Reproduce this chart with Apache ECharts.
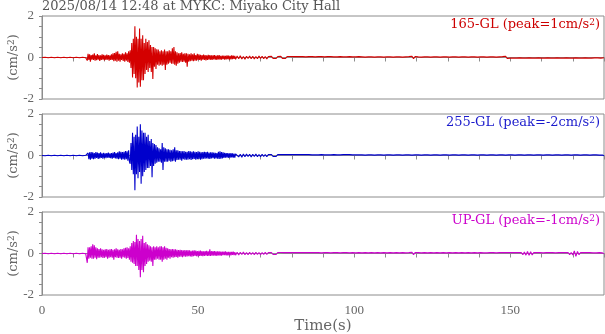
<!DOCTYPE html>
<html><head><meta charset="utf-8">
<script src="https://cdn.jsdelivr.net/npm/echarts@6/dist/echarts.min.js"></script>
<style>html,body{margin:0;padding:0;background:#fff}#c{width:605px;height:334px}</style>
</head><body><div id="c"></div><script>
// ---- data ----
const titleText = '2025/08/14 12:48 at MYKC: Miyako City Hall';
const channels = ['165-GL', '255-GL', 'UP-GL'];
const peaks = ['1', '-2', '-1'];
const xTickLabels = [0, 50, 100, 150];
const yTickLabels = [-2, 0, 2];
// sampling of the three segments (seconds)
const PRE_T0 = 0, PRE_DT = 1;
const MAIN_T0 = 14.25, MAIN_DT = 0.25;
const CODA_T0 = 62.5, CODA_DT = 0.5;

// 165-GL (cm/s^2)
const pre165 = [0,0.01,-0.01,0.01,-0.01,0.01,-0.01,0.01,-0.01,0.01,-0.01,0.01,-0.01,0.01,-0.01];
const main165 = [
0.02,-0.15,0.18,-0.12,0.15,-0.2,0.12,-0.1,
0.14,-0.12,0.2,-0.15,0.1,-0.13,0.16,-0.1,
0.12,-0.16,0.1,-0.12,0.15,-0.1,0.13,-0.14,
0.1,-0.12,0.14,-0.1,0.12,-0.15,0.1,-0.12,
0.15,-0.12,0.2,-0.18,0.22,-0.15,0.28,-0.2,
0.3,-0.15,0.18,-0.2,0.15,-0.12,0.2,-0.16,
0.18,-0.2,0.25,-0.15,0.2,-0.22,0.3,-0.25,
0.35,-0.5,0.7,-0.96,0.9,-0.8,1.5,-1.0,
1.0,-1.45,0.9,-1.2,1.4,-1.41,0.9,-1.1,
1.07,-1.1,0.7,-0.8,0.9,-0.6,0.75,-0.7,
0.83,-0.5,0.6,-0.7,0.5,-1.04,0.5,-0.45,
0.45,-0.55,0.4,-0.35,0.38,-0.4,0.3,-0.35,
0.35,-0.4,0.3,-0.35,0.38,-0.6,0.3,-0.35,
0.3,-0.3,0.35,-0.25,0.3,-0.3,0.45,-0.3,
0.5,-0.35,0.3,-0.4,0.25,-0.3,0.2,-0.25,
0.22,-0.2,0.25,-0.22,0.18,-0.2,0.2,-0.25,
0.2,-0.45,0.18,-0.2,0.15,-0.18,0.2,-0.15,
0.15,-0.18,0.2,-0.15,0.12,-0.15,0.18,-0.12,
0.15,-0.12,0.13,-0.15,0.12,-0.1,0.14,-0.12,
0.12,-0.14,0.1,-0.12,0.13,-0.1,0.12,-0.11,
0.1,-0.12,0.11,-0.09,0.12,-0.1,0.09,-0.11,
0.1,-0.09,0.11,-0.1,0.08,-0.1,0.09,-0.08,
0.09,-0.1,0.08,-0.09,0.1,-0.08,0.09,-0.1,
0.08,-0.09,0.1,-0.08,0.09,-0.07,0.08,-0.09];
const coda165 = [
0.07,-0.06,0.08,-0.07,0.05,-0.08,0.06,-0.05,0.07,-0.06,
0.06,-0.07,0.05,-0.06,0.07,-0.05,0.06,-0.06,0.05,-0.07,
0.05,-0.04,0.06,-0.05,0.04,-0.05,0.05,-0.04,0.06,-0.05,
0.04,-0.05,0.05,-0.04,0.05,-0.04,0.04,-0.05,0.04,-0.04,
0.04,-0.03,0.04,-0.04,0.03,-0.04,0.04,-0.03,0.04,-0.04,
0.03,-0.04,0.04,-0.03,0.04,-0.04,0.03,-0.04,0.04,-0.03,
0.04,-0.03,0.03,-0.04,0.03,-0.03,0.04,-0.03,0.03,-0.04,
0.03,-0.03,0.04,-0.03,0.03,-0.04,0.03,-0.03,0.04,-0.03,
0.03,-0.03,0.02,-0.03,0.03,-0.02,0.03,-0.03,0.02,-0.03,
0.03,-0.02,0.03,-0.03,0.02,-0.03,0.03,-0.02,0.03,-0.03,
0.02,-0.03,0.03,-0.02,0.03,-0.03,0.02,-0.03,0.03,-0.02,
0.04,-0.05,0.06,-0.06,0.05,-0.04,0.03,-0.03,0.02,-0.03,
0.03,-0.02,0.03,-0.03,0.02,-0.03,0.03,-0.02,0.03,-0.03,
0.02,-0.03,0.03,-0.02,0.03,-0.03,0.02,-0.03,0.03,-0.02,
0.03,-0.03,0.02,-0.03,0.03,-0.02,0.03,-0.03,0.02,-0.03,
0.03,-0.02,0.03,-0.03,0.02,-0.03,0.03,-0.02,0.03,-0.03,
0.02,-0.03,0.03,-0.02,0.03,-0.03,0.02,-0.03,0.03,-0.02,
0.04,-0.05,0.06,-0.05,0.04,-0.03,0.03,-0.03,0.02,-0.03,
0.03,-0.02,0.03,-0.03,0.02,-0.03,0.03,-0.02,0.03,-0.03,
0.02,-0.03,0.03,-0.02,0.03,-0.03,0.02,-0.03,0.03,-0.02,
0.03,-0.03,0.02,-0.03,0.03,-0.02,0.03,-0.03,0.02,-0.03,
0.03,-0.02,0.03,-0.03,0.02,-0.03,0.03,-0.02,0.03,-0.03,
0.02,-0.03,0.03,-0.02,0.03,-0.03,0.02,-0.03,0.03,-0.02,
0.03,-0.02,0.02,-0.03,0.02,-0.01];

// 255-GL (cm/s^2)
const pre255 = [0,-0.01,0.01,-0.01,0.01,-0.01,0.01,-0.01,0.01,-0.01,0.01,-0.01,0.01,-0.01,0.01];
const main255 = [
0.01,-0.01,0.12,-0.18,0.15,-0.2,0.16,-0.15,
0.15,-0.18,0.12,-0.15,0.16,-0.12,0.14,-0.16,
0.12,-0.14,0.15,-0.12,0.1,-0.15,0.13,-0.12,
0.1,-0.13,0.12,-0.1,0.14,-0.12,0.1,-0.13,
0.12,-0.15,0.14,-0.12,0.16,-0.14,0.12,-0.15,
0.15,-0.18,0.2,-0.15,0.18,-0.2,0.16,-0.18,
0.18,-0.2,0.22,-0.18,0.2,-0.25,0.25,-0.3,
-0.4,0.6,-0.7,1.1,-0.9,0.9,-1.68,1.0,
-0.9,1.4,-1.1,0.9,-0.8,1.5,-1.36,1.2,
-1.0,1.1,-0.8,1.1,-0.7,0.9,-0.6,1.0,
-0.6,0.7,-0.5,0.8,-1.05,0.6,-0.5,0.55,
-0.4,0.5,-0.35,0.4,-0.3,0.35,-0.3,0.3,
-0.35,0.6,-0.7,0.4,-0.3,0.35,-0.3,0.3,
-0.3,0.3,-0.25,0.28,-0.3,0.25,-0.28,0.3,
-0.25,0.4,-0.3,0.25,-0.22,0.25,-0.2,0.22,
-0.2,0.22,-0.25,0.2,-0.18,0.22,-0.2,0.18,
-0.2,0.18,-0.2,0.22,-0.18,0.2,-0.22,0.18,
-0.18,0.2,-0.16,0.18,-0.2,0.16,-0.18,0.2,
-0.16,0.18,-0.2,0.15,-0.18,0.16,-0.15,0.18,
-0.15,0.16,-0.14,0.18,-0.15,0.14,-0.16,0.15,
-0.14,0.15,-0.13,0.14,-0.15,0.13,-0.14,0.12,
-0.15,0.18,-0.16,0.2,-0.15,0.17,-0.14,0.15,
-0.12,0.13,-0.11,0.12,-0.1,0.12,-0.11,0.1,
-0.1,0.11,-0.09,0.1,-0.1,0.09,-0.1,0.08];
const coda255 = [
0.08,-0.07,0.06,-0.08,0.07,-0.06,0.07,-0.05,0.06,-0.07,
0.06,-0.05,0.07,-0.06,0.05,-0.06,0.06,-0.05,0.05,-0.06,
0.05,-0.04,0.05,-0.05,0.04,-0.05,0.05,-0.04,0.04,-0.05,
0.04,-0.05,0.04,-0.04,0.05,-0.04,0.04,-0.04,0.04,-0.03,
0.04,-0.05,0.05,-0.04,0.04,-0.03,0.04,-0.04,0.03,-0.04,
0.03,-0.04,0.03,-0.03,0.04,-0.03,0.03,-0.04,0.03,-0.03,
0.03,-0.03,0.04,-0.03,0.03,-0.04,0.03,-0.03,0.04,-0.03,
0.04,-0.05,0.04,-0.04,0.03,-0.04,0.03,-0.03,0.03,-0.04,
0.03,-0.03,0.02,-0.03,0.03,-0.02,0.03,-0.03,0.02,-0.03,
0.03,-0.02,0.03,-0.03,0.02,-0.03,0.03,-0.02,0.03,-0.03,
0.02,-0.03,0.03,-0.02,0.03,-0.03,0.02,-0.03,0.03,-0.02,
0.03,-0.03,0.02,-0.03,0.03,-0.02,0.03,-0.03,0.02,-0.03,
0.03,-0.02,0.03,-0.03,0.02,-0.03,0.03,-0.02,0.03,-0.03,
0.02,-0.03,0.03,-0.02,0.03,-0.03,0.02,-0.03,0.03,-0.02,
0.03,-0.03,0.02,-0.03,0.03,-0.02,0.03,-0.03,0.02,-0.03,
0.03,-0.02,0.03,-0.03,0.02,-0.03,0.03,-0.02,0.03,-0.03,
0.02,-0.03,0.03,-0.02,0.03,-0.03,0.02,-0.03,0.03,-0.02,
0.03,-0.03,0.02,-0.03,0.03,-0.02,0.03,-0.03,0.02,-0.03,
0.03,-0.02,0.03,-0.03,0.02,-0.03,0.03,-0.02,0.03,-0.03,
0.02,-0.03,0.03,-0.02,0.03,-0.03,0.02,-0.03,0.03,-0.02,
0.03,-0.03,0.02,-0.03,0.03,-0.02,0.03,-0.03,0.02,-0.03,
0.03,-0.02,0.03,-0.03,0.02,-0.03,0.03,-0.02,0.03,-0.03,
0.02,-0.03,0.03,-0.02,0.03,-0.03,0.02,-0.03,0.03,-0.02,
0.03,-0.02,0.02,-0.03,0.02,-0.01];

// UP-GL (cm/s^2)
const preUP = [0,0.01,-0.01,0.01,-0.01,0.01,-0.01,0.01,-0.01,0.01,-0.01,0.01,-0.01,0.01,-0.01];
const mainUP = [
0.01,-0.45,0.3,-0.25,0.3,-0.2,0.35,-0.25,
0.45,-0.25,0.4,-0.2,0.3,-0.28,0.25,-0.2,
0.22,-0.2,0.25,-0.18,0.2,-0.22,0.18,-0.2,
0.2,-0.18,0.22,-0.25,0.18,-0.2,0.2,-0.18,
0.22,-0.2,0.18,-0.3,0.2,-0.18,0.25,-0.2,
0.2,-0.22,0.18,-0.2,0.22,-0.25,0.2,-0.18,
0.25,-0.2,0.28,-0.25,0.3,-0.22,0.25,-0.3,
0.35,-0.4,0.5,-0.45,0.6,-0.5,0.55,-0.6,
0.9,-0.6,0.7,-0.8,0.6,-1.15,0.7,-0.8,
0.85,-0.9,0.5,-0.6,0.55,-0.5,0.45,-0.4,
0.4,-0.35,0.35,-0.4,0.3,-0.6,0.35,-0.3,
0.3,-0.3,0.35,-0.25,0.3,-0.3,0.35,-0.3,
0.35,-0.4,0.3,-0.3,0.35,-0.25,0.28,-0.3,
0.25,-0.2,0.22,-0.25,0.2,-0.18,0.22,-0.2,
0.2,-0.18,0.2,-0.16,0.18,-0.2,0.17,-0.15,
0.18,-0.15,0.16,-0.18,0.15,-0.14,0.16,-0.15,
0.15,-0.14,0.16,-0.13,0.15,-0.14,0.13,-0.15,
0.14,-0.13,0.15,-0.12,0.14,-0.13,0.12,-0.14,
0.13,-0.12,0.14,-0.12,0.12,-0.13,0.11,-0.12,
0.12,-0.11,0.13,-0.12,0.11,-0.12,0.2,-0.12,
0.11,-0.1,0.12,-0.1,0.11,-0.1,0.1,-0.11,
0.1,-0.09,0.1,-0.1,0.09,-0.1,0.09,-0.08,
0.09,-0.08,0.1,-0.09,0.08,-0.09,0.08,-0.09,
0.08,-0.09,0.08,-0.07,0.09,-0.08,0.07,-0.08];
const codaUP = [
0.06,-0.07,0.06,-0.05,0.07,-0.06,0.05,-0.06,0.06,-0.05,
0.05,-0.06,0.06,-0.05,0.05,-0.06,0.05,-0.05,0.06,-0.05,
0.05,-0.04,0.05,-0.05,0.04,-0.05,0.05,-0.04,0.05,-0.04,
0.04,-0.05,0.04,-0.04,0.05,-0.04,0.04,-0.05,0.04,-0.04,
0.04,-0.04,0.05,-0.04,0.04,-0.04,0.04,-0.05,0.04,-0.04,
0.04,-0.03,0.04,-0.04,0.03,-0.04,0.04,-0.03,0.04,-0.04,
0.03,-0.04,0.04,-0.03,0.04,-0.04,0.03,-0.04,0.04,-0.03,
0.04,-0.03,0.03,-0.04,0.04,-0.03,0.03,-0.04,0.04,-0.03,
0.03,-0.04,0.04,-0.03,0.03,-0.04,0.04,-0.03,0.03,-0.04,
0.04,-0.03,0.03,-0.04,0.04,-0.03,0.03,-0.04,0.04,-0.03,
0.03,-0.04,0.04,-0.03,0.03,-0.04,0.04,-0.03,0.03,-0.04,
0.04,-0.05,0.06,-0.06,0.05,-0.04,0.04,-0.03,0.03,-0.04,
0.04,-0.03,0.03,-0.04,0.04,-0.03,0.03,-0.04,0.04,-0.03,
0.03,-0.04,0.04,-0.03,0.03,-0.04,0.04,-0.03,0.03,-0.04,
0.04,-0.03,0.03,-0.04,0.04,-0.03,0.03,-0.04,0.04,-0.03,
0.03,-0.04,0.04,-0.03,0.03,-0.04,0.04,-0.03,0.03,-0.04,
0.03,-0.04,0.04,-0.03,0.04,-0.04,0.03,-0.04,0.04,-0.03,
0.04,-0.04,0.05,-0.04,0.04,-0.05,0.04,-0.04,0.05,-0.04,
0.04,-0.05,0.05,-0.06,0.07,-0.08,0.1,-0.09,0.08,-0.07,
0.05,-0.04,0.04,-0.05,0.04,-0.04,0.03,-0.04,0.04,-0.03,
0.04,-0.03,0.04,-0.04,0.03,-0.04,0.04,-0.03,0.04,-0.04,
0.04,-0.05,0.05,-0.06,0.05,-0.07,0.12,-0.14,0.1,-0.06,
0.05,-0.04,0.04,-0.05,0.04,-0.03,0.04,-0.04,0.03,-0.04,
0.03,-0.03,0.04,-0.03,0.03,-0.02];

// ---- build ----
function build(pre, main, coda) {
  const out = [];
  pre.forEach((v, i) => out.push([PRE_T0 + i * PRE_DT, v]));
  main.forEach((v, i) => out.push([MAIN_T0 + i * MAIN_DT, v]));
  coda.forEach((v, i) => out.push([CODA_T0 + i * CODA_DT, v]));
  return out;
}
const seriesData = [build(pre165, main165, coda165), build(pre255, main255, coda255), build(preUP, mainUP, codaUP)];
const colors = ['#d40000', '#0000cc', '#cc00cc'];
const textColors = ['#cc0000', '#1a1acc', '#cc00cc'];
const GREY = '#666';
const AXIS = '#8c8c8c';
const SERIF = '"Liberation Serif", "DejaVu Serif", serif';
const WIDE = '"DejaVu Serif", serif';

const tops = [16, 114, 212];
const H = 83;

const grids = tops.map(t => ({left: 42, right: 1, top: t, height: H, show: true, containLabel: false,
  outerBoundsMode: 'none', borderColor: AXIS, borderWidth: 1, backgroundColor: 'transparent'}));
const xAxes = tops.map((t, i) => ({
  type: 'value', gridIndex: i, min: 0, max: 180, interval: 10,
  axisLine: {show: true, lineStyle: {color: AXIS, width: 1}},
  axisTick: {show: true, inside: false, length: 4, lineStyle: {color: AXIS}},
  splitLine: {show: false},
  axisLabel: {show: i === 2, margin: 9, color: GREY, fontFamily: SERIF, fontSize: 13,
    formatter: v => xTickLabels.indexOf(v) >= 0 ? String(v) : ''},
  name: i === 2 ? 'Time(s)' : '', nameLocation: 'middle', nameGap: 24, nameMoveOverlap: false,
  nameTextStyle: {color: GREY, fontFamily: WIDE, fontSize: 15}
}));
const yAxes = tops.map((t, i) => ({
  type: 'value', gridIndex: i, min: -2, max: 2, interval: 0.5,
  axisLine: {show: true, lineStyle: {color: AXIS, width: 1}},
  axisTick: {show: true, inside: false, length: 3, lineStyle: {color: AXIS}},
  splitLine: {show: false},
  axisLabel: {margin: 8, color: GREY, fontFamily: SERIF, fontSize: 13,
    formatter: v => yTickLabels.some(k => Math.abs(k - v) < 1e-9) ? String(v) : ''},
  name: '(cm/s{sup|2})', nameLocation: 'middle', nameGap: 21, nameRotate: 90, nameMoveOverlap: false,
  nameTextStyle: {color: GREY, fontFamily: WIDE, fontSize: 13,
    rich: {sup: {fontSize: 9, fontFamily: WIDE, color: GREY, verticalAlign: 'top', padding: [0, 0, 5, 0]}}}
}));
const series = seriesData.map((d, i) => ({
  type: 'line', xAxisIndex: i, yAxisIndex: i, data: d, showSymbol: false, symbol: 'none',
  sampling: null, lineStyle: {color: colors[i], width: 1.1}, itemStyle: {color: colors[i]}, silent: true
}));
const graphics = [{
  type: 'text', left: 42, top: 0,
  style: {text: titleText, fill: '#555', font: '13px ' + WIDE}
}].concat(channels.map((c, i) => ({
  type: 'text', right: 5, top: tops[i] + 2,
  style: {text: c + ' (peak=' + peaks[i] + 'cm/s{sup|2})', fill: textColors[i], font: '13px ' + WIDE,
    rich: {sup: {fontSize: 9, fontFamily: WIDE, fill: textColors[i], verticalAlign: 'top', padding: [0, 0, 5, 0]}}}
})));

const chart = echarts.init(document.getElementById('c'), null, {renderer: 'canvas'});
chart.setOption({
  animation: false, backgroundColor: '#fff',
  grid: grids, xAxis: xAxes, yAxis: yAxes, series: series, graphic: graphics
});
</script></body></html>
